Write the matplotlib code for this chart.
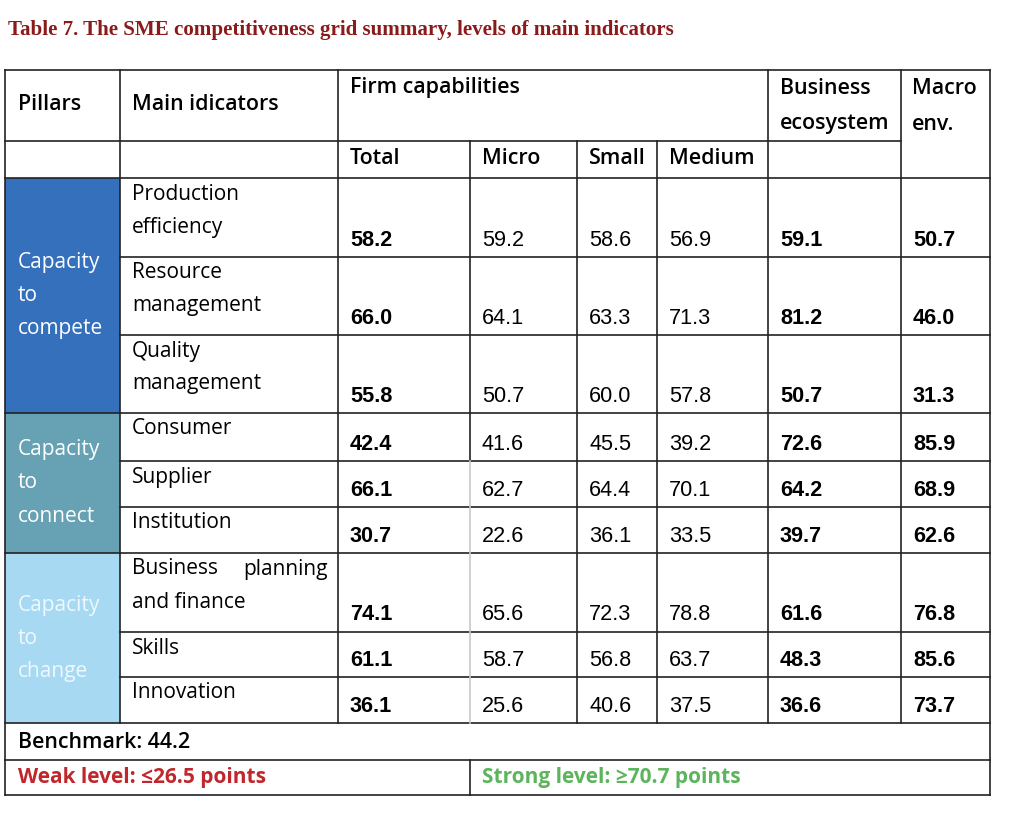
import matplotlib.pyplot as plt

# ---- data ----
pillars = ["Capacity\nto\ncompete", "Capacity\nto\nconnect", "Capacity\nto\nchange"]
pillar_rows = [3, 3, 3]
indicators = ["Production\nefficiency", "Resource\nmanagement", "Quality\nmanagement",
              "Consumer", "Supplier", "Institution",
              "Business planning\nand finance", "Skills", "Innovation"]
total = [58.2, 66.0, 55.8, 42.4, 66.1, 30.7, 74.1, 61.1, 36.1]
micro = [59.2, 64.1, 50.7, 41.6, 62.7, 22.6, 65.6, 58.7, 25.6]
small = [58.6, 63.3, 60.0, 45.5, 64.4, 36.1, 72.3, 56.8, 40.6]
medium = [56.9, 71.3, 57.8, 39.2, 70.1, 33.5, 78.8, 63.7, 37.5]
business = [59.1, 81.2, 50.7, 72.6, 64.2, 39.7, 61.6, 48.3, 36.6]
macro = [50.7, 46.0, 31.3, 85.9, 68.9, 62.6, 76.8, 85.6, 73.7]
benchmark = 44.2
weak = 26.5
strong = 70.7

title = "Table 7. The SME competitiveness grid summary, levels of main indicators"

# ---- layout (pixels) ----
pillar_colors = ["#3470bc", "#67a1b4", "#a8d9f3"]
pillar_text = ["white", "white", "#eef8fd"]
cols = [5, 120, 338, 470, 577, 657, 768, 901, 990]
rows = [178, 257, 335, 413, 461, 507, 553, 632, 677, 723]
top, sub, bench_y, level_y, bottom = 70, 141, 723, 760, 795
pad = 12
LH = 33

txt_font = "Open Sans"
num_font = "Liberation Sans"
FS = 15
HFS = 15.4
NFS = 15.6

fig = plt.figure(figsize=(10.24, 8.21), dpi=100)
ax = fig.add_axes([0, 0, 1, 1])
ax.set_xlim(0, 1024)
ax.set_ylim(821, 0)
ax.axis("off")

ax.text(8, 30, title, fontfamily="Liberation Serif", fontweight="bold",
        fontsize=15.1, color="#8b1a1a", va="center", ha="left")

# pillar fills
r = 0
for name, n, c, tc in zip(pillars, pillar_rows, pillar_colors, pillar_text):
    y0, y1 = rows[r], rows[r + n]
    ax.fill_between([cols[0], cols[1]], y0, y1, color=c, lw=0)
    lines = name.split("\n")
    mid = (y0 + y1) / 2
    for k, ln in enumerate(lines):
        ax.text(cols[0] + 13, mid + (k - (len(lines) - 1) / 2) * LH, ln,
                fontfamily=txt_font, fontsize=FS, color=tc, va="center")
    r += n

def hline(y, x0, x1, c="#222222"):
    ax.plot([x0, x1], [y, y], color=c, lw=1.2, solid_capstyle="projecting")

def vline(x, y0, y1, c="#222222"):
    ax.plot([x, x], [y0, y1], color=c, lw=1.2, solid_capstyle="projecting")

# grid lines
hline(top, cols[0], cols[-1])
hline(sub, cols[0], cols[7])
for y in rows:
    hline(y, cols[0] if y in (rows[0], rows[-1]) else cols[1], cols[-1])
for y in (rows[3], rows[6]):
    hline(y, cols[0], cols[1])
hline(level_y, cols[0], cols[-1])
hline(bottom, cols[0], cols[-1])
for x in (cols[0], cols[-1]):
    vline(x, top, bottom)
for x in (cols[1], cols[2], cols[6], cols[7]):
    vline(x, top, bench_y)
for x in (cols[4], cols[5]):
    vline(x, sub, bench_y)
vline(cols[3], sub, rows[4])
vline(cols[3], rows[4], bench_y, c="#c8c8c8")
vline(cols[3], level_y, bottom)

# headers
hw = "semibold"
hdr = dict(fontfamily=txt_font, fontsize=HFS, fontweight=hw, va="center")
ax.text(cols[0] + 13, 105, "Pillars", **hdr)
ax.text(cols[1] + pad, 105, "Main idicators", **hdr)
ax.text(cols[2] + pad, 88, "Firm capabilities", **hdr)
ax.text(cols[6] + pad, 88, "Business", **hdr)
ax.text(cols[6] + pad, 124, "ecosystem", **hdr)
ax.text(cols[7] + pad - 1, 88, "Macro", **hdr)
ax.text(cols[7] + pad - 1, 124, "env.", **hdr)
for x, lab in zip(cols[2:6], ["Total", "Micro", "Small", "Medium"]):
    ax.text(x + pad, 159, lab, **hdr)

# body
series = [(total, True), (micro, False), (small, False), (medium, False),
          (business, True), (macro, True)]
for i, ind in enumerate(indicators):
    y0, y1 = rows[i], rows[i + 1]
    for k, ln in enumerate(ind.split("\n")):
        yy = y0 + 16 + k * LH
        words = ln.split(" ")
        if k == 0 and len(words) == 2 and "\n" in ind and ind.startswith("Business"):
            ax.text(cols[1] + pad, yy, words[0], fontfamily=txt_font, fontsize=FS, va="center")
            ax.text(cols[2] - 10, yy, words[1], fontfamily=txt_font, fontsize=FS, va="center", ha="right")
        else:
            ax.text(cols[1] + pad, yy, ln, fontfamily=txt_font, fontsize=FS, va="center")
    xs = [cols[2], cols[3], cols[4], cols[5], cols[6], cols[7]]
    for x, (vals, bold) in zip(xs, series):
        ax.text(x + pad, y1 - 17, f"{vals[i]:.1f}", fontfamily=num_font, fontsize=NFS,
                fontweight="bold" if bold else "normal", va="center")

ax.text(cols[0] + 13, 742, f"Benchmark: {benchmark}", **hdr)
ax.text(cols[0] + 13, 777, f"Weak level: \u2264{weak} points", fontfamily=txt_font,
        fontsize=FS, fontweight="bold", color="#c0272d", va="center")
ax.text(cols[3] + pad, 777, f"Strong level: \u2265{strong} points", fontfamily=txt_font,
        fontsize=FS, fontweight="bold", color="#5cb55c", va="center")

fig.savefig("out.png", dpi=100)
